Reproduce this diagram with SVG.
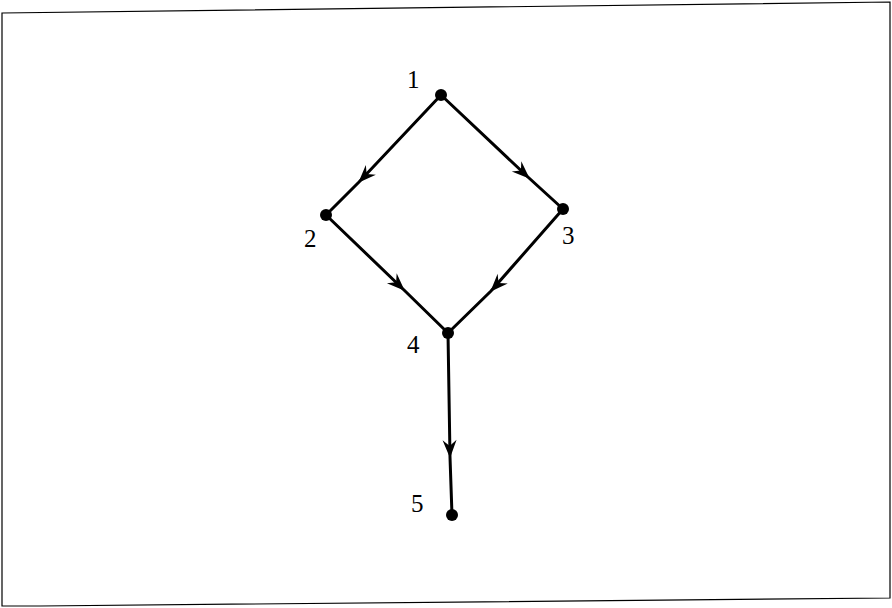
<svg xmlns="http://www.w3.org/2000/svg" width="892" height="608" viewBox="0 0 892 608">
<style>
.edge{stroke:#000;stroke-width:3;fill:none;marker-mid:url(#ah)}
.dot{fill:#000}
.lbl{font-family:"Liberation Serif",serif;font-size:25px;fill:#000}
</style>
<defs>
<marker id="ah" viewBox="-20 -9 22 18" markerWidth="22" markerHeight="18" refX="0" refY="0" orient="auto" markerUnits="userSpaceOnUse">
<path d="M1,0 L-17,-7 L-11,0 L-17,7 Z" fill="#000"/>
</marker>
</defs>
<rect width="892" height="608" fill="#fff"/>
<polygon points="2,13 890,2 890,598 40,606 2,606" fill="none" stroke="#000" stroke-width="1.2"/>
<g id="connectors">
<path class="edge" d="M441,95 L359,182 L326,215"/>
<path class="edge" d="M441,95 L529,178 L563,209"/>
<path class="edge" d="M326,215 L404,290 L448,333"/>
<path class="edge" d="M563,209 L491,291 L448,333"/>
<path class="edge" d="M448,333 L450,457 L452,515"/>
</g>
<g id="n1"><circle class="dot" cx="441" cy="95" r="6"/><text class="lbl" x="407" y="88">1</text></g>
<g id="n2"><circle class="dot" cx="326" cy="215" r="6"/><text class="lbl" x="304" y="247">2</text></g>
<g id="n3"><circle class="dot" cx="563" cy="209" r="6"/><text class="lbl" x="562" y="244">3</text></g>
<g id="n4"><circle class="dot" cx="448" cy="333" r="6"/><text class="lbl" x="407" y="353">4</text></g>
<g id="n5"><circle class="dot" cx="452" cy="515" r="6"/><text class="lbl" x="411" y="512">5</text></g>
</svg>
